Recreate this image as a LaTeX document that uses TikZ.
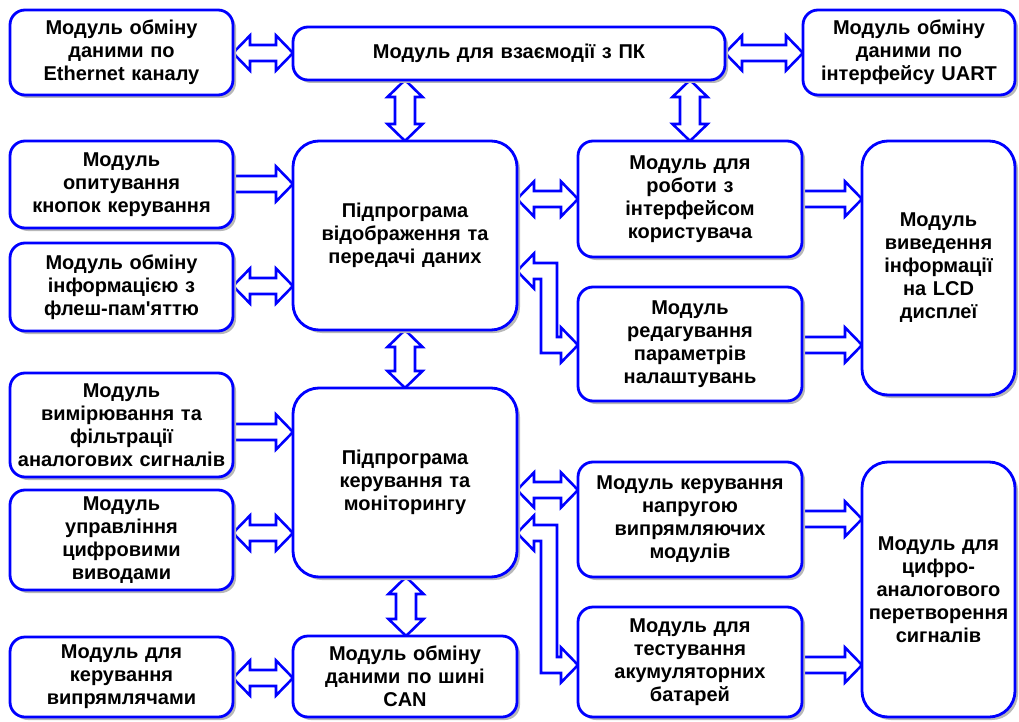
\documentclass[tikz,border=0pt]{standalone}
\usepackage{fontspec}
\setmainfont{Liberation Sans}
\usetikzlibrary{calc,shadows}
\definecolor{mblue}{RGB}{0,0,255}
\pgfdeclarelayer{background}
\pgfsetlayers{background,main}

% block arrow geometry (units: 1 = 1pt)
\newcommand\arL{17}   % head length
\newcommand\arH{17.5} % head half width
\newcommand\arS{8}    % shaft half width, horizontal arrows
\newcommand\arV{10}   % shaft half width, vertical arrows

% horizontal double-headed block arrow: left anchor, right anchor, y
\newcommand\dblH[3]{%
  \draw[blockarrow] (#1 |- 0,#3) -- ++(\arL,-\arH) -- ++(0,\arH-\arS)
    -- ($(#2 |- 0,#3)+(-\arL,-\arS)$) -- ++(0,\arS-\arH) -- (#2 |- 0,#3)
    -- ++(-\arL,\arH) -- ++(0,\arS-\arH) -- ($(#1 |- 0,#3)+(\arL,\arS)$)
    -- ++(0,\arH-\arS) -- cycle;}
% horizontal single-headed block arrow pointing right
\newcommand\sglH[3]{%
  \draw[blockarrow] ($(#1 |- 0,#3)+(0,-\arS)$) -- ($(#2 |- 0,#3)+(-\arL,-\arS)$)
    -- ++(0,\arS-\arH) -- (#2 |- 0,#3) -- ++(-\arL,\arH) -- ++(0,\arS-\arH)
    -- ($(#1 |- 0,#3)+(0,\arS)$) -- cycle;}
% vertical double-headed block arrow: upper anchor, lower anchor, x
\newcommand\dblV[3]{%
  \draw[blockarrow] (#3,0 |- #1) -- ++(-\arH,\arL) -- ++(\arH-\arV,0)
    -- ($(#3,0 |- #2)+(-\arV,-\arL)$) -- ++(\arV-\arH,0) -- (#3,0 |- #2)
    -- ++(\arH,-\arL) -- ++(\arV-\arH,0) -- ($(#3,0 |- #1)+(\arV,\arL)$)
    -- ++(\arH-\arV,0) -- cycle;}
% L-shaped double-headed block arrow: left anchor, right anchor, y left, x bend, y right
\newcommand\dblL[5]{%
  \draw[blockarrow] (#1 |- 0,#3) -- ++(\arL,-\arH) -- ++(0,\arH-\arS)
    -- ({#4+\arS},{#3-\arS}) -- ({#4+\arS},{#5-\arS})
    -- ($(#2 |- 0,#5)+(-\arL,-\arS)$) -- ++(0,\arS-\arH) -- (#2 |- 0,#5)
    -- ++(-\arL,\arH) -- ++(0,\arS-\arH) -- ({#4-\arS},{#5+\arS})
    -- ({#4-\arS},{#3+\arS}) -- ($(#1 |- 0,#3)+(\arL,\arS)$)
    -- ++(0,\arH-\arS) -- cycle;}

\begin{document}
\begin{tikzpicture}[x=1pt,y=-1pt,
  box/.style={draw=mblue, fill=white, line width=2.8pt, rounded corners=15pt,
    outer sep=0pt, inner xsep=0pt, inner ysep=2pt, anchor=north west, align=center,
    text=black, font=\bfseries\fontsize{20pt}{23pt}\selectfont,
    general shadow={fill=black!28, shadow xshift=3pt, shadow yshift=-3pt}},
  bigbox/.style={box, rounded corners=26pt},
  sz/.style 2 args={minimum width=#1pt, text width=#1pt, minimum height=#2pt},
  blockarrow/.style={draw=mblue, fill=white, line width=2.6pt, line join=miter}]

\useasboundingbox (0,0) rectangle (1019,722);

% modules
\node[box, sz={223}{85}] (eth) at (10,10) {Модуль обміну\\даними по\\Ethernet каналу};
\node[box, sz={432}{53}] (pc) at (293,27) {Модуль для взаємодії з ПК};
\node[box, sz={212}{85}] (uart) at (803,10) {Модуль обміну\\даними по\\інтерфейсу UART};
\node[box, sz={223}{87}] (keys) at (10,141) {Модуль\\опитування\\кнопок керування};
\node[box, sz={223}{88}] (flash) at (10,243) {Модуль обміну\\інформацією з\\флеш-пам\textquotesingle яттю};
\node[bigbox, sz={224}{189}] (disp) at (293,141) {Підпрограма\\відображення та\\передачі даних};
\node[box, sz={224}{116}] (ui) at (578,141) {Модуль для\\роботи з\\інтерфейсом\\користувача};
\node[box, sz={224}{114}] (edit) at (578,287) {Модуль\\редагування\\параметрів\\налаштувань};
\node[bigbox, sz={153}{254}] (lcd) at (862,141) {Модуль\\виведення\\інформації\\на LCD\\дисплеї};
\node[box, sz={223}{104}] (meas) at (10,373) {Модуль\\вимірювання та\\фільтрації\\аналогових сигналів};
\node[box, sz={223}{100}] (dout) at (10,490) {Модуль\\управління\\цифровими\\виводами};
\node[bigbox, sz={224}{189}] (ctrl) at (293,388) {Підпрограма\\керування та\\моніторингу};
\node[box, sz={224}{115}] (volt) at (578,462) {Модуль керування\\напругою\\випрямляючих\\модулів};
\node[bigbox, sz={153}{255}] (dac) at (862,462) {Модуль для\\цифро-\\аналогового\\перетворення\\сигналів};
\node[box, sz={224}{110}] (bat) at (578,607) {Модуль для\\тестування\\акумуляторних\\батарей};
\node[box, sz={224}{81}] (can) at (293,636) {Модуль обміну\\даними по шині\\CAN};
\node[box, sz={223}{80}] (rect) at (10,637) {Модуль для\\керування\\випрямлячами};

\begin{pgfonlayer}{background}
  \fill[white] (0,0) rectangle (1019,722);
  % data links between modules
  \dblH{eth.east}{pc.west}{53}
  \dblH{pc.east}{uart.west}{53}
  \dblV{pc.south}{disp.north}{405}
  \dblV{pc.south}{ui.north}{690}
  \sglH{keys.east}{disp.west}{184}
  \dblH{flash.east}{disp.west}{286}
  \dblH{disp.east}{ui.west}{199}
  \dblL{disp.east}{edit.west}{271}{549}{345}
  \sglH{ui.east}{lcd.west}{199}
  \sglH{edit.east}{lcd.west}{345}
  \dblV{disp.south}{ctrl.north}{405}
  \sglH{meas.east}{ctrl.west}{432}
  \dblH{dout.east}{ctrl.west}{533}
  \dblH{ctrl.east}{volt.west}{490}
  \dblL{ctrl.east}{bat.west}{533}{549}{665}
  \sglH{volt.east}{dac.west}{519}
  \sglH{bat.east}{dac.west}{665}
  \dblV{ctrl.south}{can.north}{406}
  \dblH{rect.east}{can.west}{678}
\end{pgfonlayer}
\end{tikzpicture}
\end{document}
